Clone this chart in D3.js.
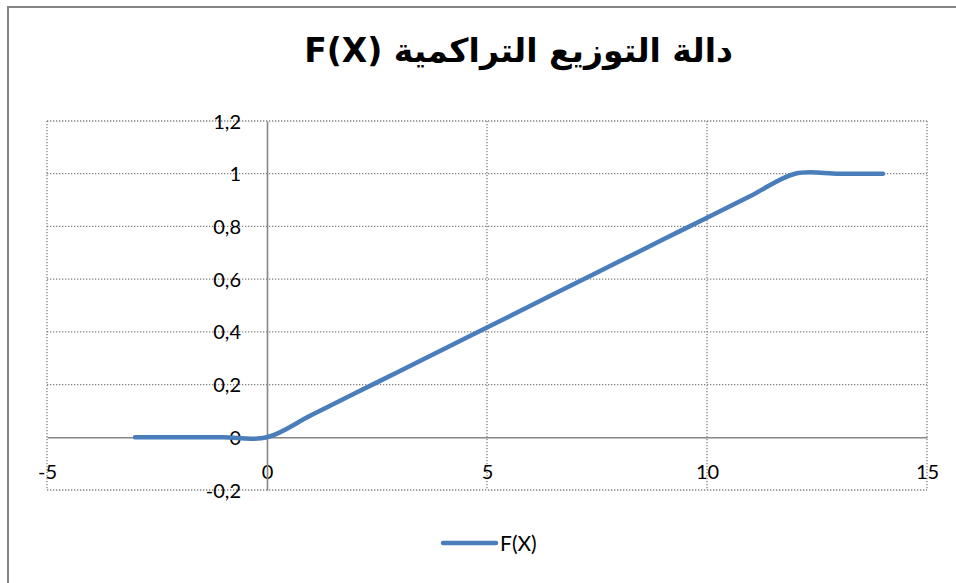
<!DOCTYPE html>
<html>
<head>
<meta charset="utf-8">
<script src="https://cdn.jsdelivr.net/npm/d3@7"></script>
<style>
  html, body { margin: 0; padding: 0; background: #fff; }
  svg { display: block; }
</style>
</head>
<body>
<svg id="chart" width="956" height="583"></svg>
<script>
// Cumulative distribution function sampled at integer x
const xValues = [-3, -2, -1, 0, 1, 2, 3, 4, 5, 6, 7, 8, 9, 10, 11, 12, 13, 14];
const fValues = [0, 0, 0, 0, 1/12, 2/12, 3/12, 4/12, 5/12, 6/12, 7/12, 8/12, 9/12, 10/12, 11/12, 1, 1, 1];
const xTicks = [-5, 0, 5, 10, 15];
const yTicks = [-0.2, 0, 0.2, 0.4, 0.6, 0.8, 1, 1.2];
const titleText = "F(X) دالة التوزيع التراكمية";
const seriesName = "F(X)";

const svg = d3.select("#chart");
const W = 956, H = 583;
const plot = { left: 47, right: 927, top: 121, bottom: 490 };

const x = d3.scaleLinear().domain([-5, 15]).range([plot.left, plot.right]);
const y = d3.scaleLinear().domain([-0.2, 1.2]).range([plot.bottom, plot.top]);

const gray = "#868686";
const labelFont = "Lato, 'Open Sans', sans-serif";
// decimal comma, plain hyphen for negatives
const fmt = v => String(+(+v).toFixed(2)).replace(".", ",");

// chart frame
svg.append("rect")
  .attr("x", 8).attr("y", 7)
  .attr("width", W).attr("height", H)
  .attr("fill", "#fff")
  .attr("stroke", gray).attr("stroke-width", 2);

// title
svg.append("text")
  .attr("x", 733).attr("y", 62)
  .attr("text-anchor", "end")
  .attr("font-family", "'DejaVu Sans', sans-serif")
  .attr("font-weight", "bold")
  .attr("font-size", 33)
  .attr("fill", "#000")
  .text(titleText);

// dotted gridlines
const grid = svg.append("g")
  .attr("stroke", "#808080").attr("stroke-width", 1.3)
  .attr("stroke-dasharray", "1.3,1.7");
grid.selectAll(".hg").data(yTicks.filter(d => Math.abs(d) > 1e-9)).join("line")
  .attr("x1", plot.left).attr("x2", plot.right)
  .attr("y1", d => y(d)).attr("y2", d => y(d));
grid.selectAll(".vg").data(xTicks.filter(d => d !== 0)).join("line")
  .attr("y1", plot.top).attr("y2", plot.bottom)
  .attr("x1", d => x(d)).attr("x2", d => x(d));

// axes crossing at the origin
const xAxis = d3.axisBottom(x).tickValues(xTicks).tickSize(0).tickFormat(fmt);
const yAxis = d3.axisLeft(y).tickValues(yTicks).tickSize(0).tickFormat(fmt);

const gx = svg.append("g").attr("transform", `translate(0,${y(0)})`).call(xAxis);
gx.select(".domain").attr("stroke", gray).attr("stroke-width", 1.6);
gx.selectAll("text")
  .attr("y", 0).attr("dy", null)
  .attr("transform", "translate(0,42)")
  .attr("font-family", labelFont).attr("font-size", 20).attr("fill", "#000");

const gy = svg.append("g").attr("transform", `translate(${x(0)},0)`).call(yAxis);
gy.select(".domain").attr("stroke", gray).attr("stroke-width", 1.6);
gy.selectAll("text")
  .attr("x", -26).attr("dy", "0.35em")
  .attr("font-family", labelFont).attr("font-size", 20).attr("fill", "#000");

// smoothed series line
const data = xValues.map((v, i) => ({ x: v, y: fValues[i] }));
const line = d3.line()
  .x(d => x(d.x)).y(d => y(d.y))
  .curve(d3.curveCardinal.tension(0));
svg.append("path")
  .datum(data)
  .attr("d", line)
  .attr("fill", "none")
  .attr("stroke", "#4a7ebb")
  .attr("stroke-width", 4.5)
  .attr("stroke-linecap", "round")
  .attr("stroke-linejoin", "round");

// legend
const lg = svg.append("g");
lg.append("line")
  .attr("x1", 443).attr("x2", 496).attr("y1", 543).attr("y2", 543)
  .attr("stroke", "#4a7ebb").attr("stroke-width", 4.5)
  .attr("stroke-linecap", "round");
lg.append("text")
  .attr("x", 500).attr("y", 551)
  .attr("font-family", labelFont).attr("font-size", 21).attr("fill", "#000")
  .text(seriesName);
</script>
</body>
</html>
